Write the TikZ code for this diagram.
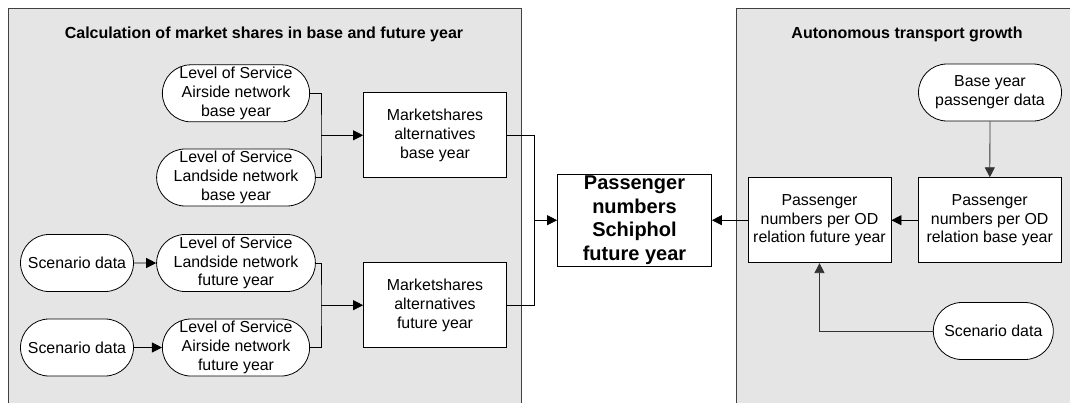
\documentclass[tikz,border=0pt]{standalone}
\usepackage{fontspec}
\setmainfont{Liberation Sans}
\usetikzlibrary{shapes.misc,arrows.meta}

\tikzset{
  panel/.style={draw=black!75, fill=gray!20, line width=0.8pt},
  paneltitle/.style={font=\bfseries\fontsize{16}{19}\selectfont},
  datanode/.style={rounded rectangle, draw, fill=white, line width=0.8pt,
    align=center, inner sep=0pt, minimum height=57pt,
    font=\fontsize{15.9}{18.7}\selectfont},
  procnode/.style={rectangle, draw, fill=white, line width=0.8pt,
    align=center, inner sep=0pt, minimum width=143pt, minimum height=85pt,
    font=\fontsize{15.9}{18.7}\selectfont},
  flow/.style={line width=0.8pt, -{Triangle[length=10pt,width=10pt]}},
  link/.style={line width=0.8pt},
}

\begin{document}
\begin{tikzpicture}[x=1pt, y=-1pt]
    \useasboundingbox (0,0) rectangle (1070,402);
    % panels
    \draw[panel] (8.5,8.5) rectangle (521,412);
    \draw[panel] (736.5,8.5) rectangle (1085,412);
    \node[paneltitle] (t1) at (264,34) {Calculation of market shares in base and future year};
    \node[paneltitle] (t2) at (907,34) {Autonomous transport growth};

    % market shares
    \node[datanode, minimum width=142pt] (lab) at (236,93.3) {Level of Service\\Airside network\\base year};
    \node[datanode, minimum width=142pt] (llb) at (236,177.5) {Level of Service\\Landside network\\base year};
    \node[datanode, minimum width=113pt] (sc1) at (77,263) {Scenario data};
    \node[datanode, minimum width=142pt] (llf) at (236,263) {Level of Service\\Landside network\\future year};
    \node[datanode, minimum width=113pt] (sc2) at (77,347.5) {Scenario data};
    \node[datanode, minimum width=142pt] (laf) at (236,347.5) {Level of Service\\Airside network\\future year};
    \node[procnode] (msb) at (435,135.3) {Marketshares\\alternatives\\base year};
    \node[procnode] (msf) at (435,305.2) {Marketshares\\alternatives\\future year};

    % result
    \node[procnode, minimum width=154pt, minimum height=92pt,
      font=\bfseries\fontsize{20}{23.9}\selectfont] (pns) at (634.5,220.2)
      {Passenger\\numbers\\Schiphol\\future year};

    % transport growth
    \node[datanode, minimum width=143pt] (byd) at (990,92.5) {Base year\\passenger data};
    \node[procnode] (pnb) at (989.7,220.2) {Passenger\\numbers per OD\\relation base year};
    \node[procnode] (pnf) at (819.5,220.2) {Passenger\\numbers per OD\\relation future year};
    \node[datanode, minimum width=120pt] (sc3) at (993.3,331) {Scenario data};

    % connectors
    \coordinate (jb) at (321,135.3);
    \coordinate (jf) at (321,305.2);
    \coordinate (jm) at (534.5,220.2);
    \draw[link] (lab.east) -| (jb) |- (llb.east);
    \draw[flow] (jb) -- (msb.west);
    \draw[link] (llf.east) -| (jf) |- (laf.east);
    \draw[flow] (jf) -- (msf.west);
    \draw[flow] (sc1) -- (llf);
    \draw[flow] (sc2) -- (laf);
    \draw[link] (msb.east) -| (jm) |- (msf.east);
    \draw[flow] (jm) -- (pns.west);
    \draw[flow] (pnf) -- (pns);
    \draw[flow] (pnb) -- (pnf);
    \draw[flow, black!80] (byd) -- (pnb);
    \draw[flow, black!80] (sc3) -| (pnf);
\end{tikzpicture}
\end{document}
